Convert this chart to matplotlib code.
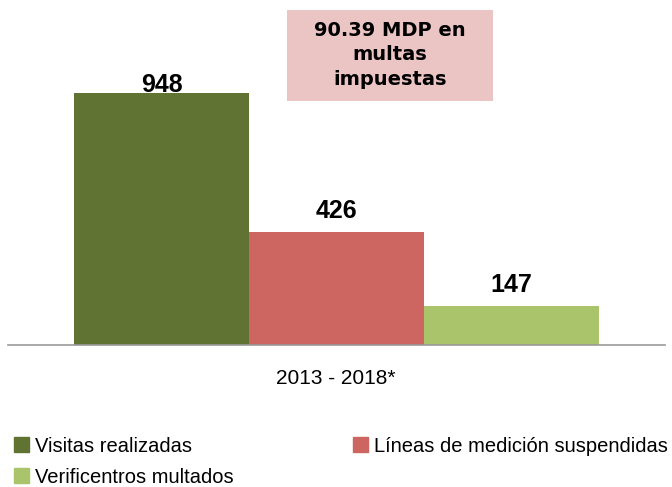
import matplotlib
matplotlib.use("Agg")
import matplotlib.pyplot as plt
from matplotlib.patches import Patch, Rectangle

# datos
CATEGORY = "2013 - 2018*"
SERIES = ["Visitas realizadas", "Líneas de medición suspendidas", "Verificentros multados"]
VALUES = [948, 426, 147]
COLORS = ["#617333", "#CD6661", "#A9C46A"]
NOTE = "90.39 MDP en\nmultas\nimpuestas"

SANS = ["Liberation Sans", "DejaVu Sans"]

fig = plt.figure(figsize=(6.72, 4.87), dpi=100)
ax = fig.add_axes([8 / 672, (487 - 345) / 487, 657 / 672, 345 / 487])

pos = [-1, 0, 1]
ax.bar(pos, VALUES, width=1.0, color=COLORS, align="center")
ax.set_xlim(-1.877, 1.877)
ax.set_ylim(0, 1298)

# etiquetas de valor (la mas alta queda pegada a la barra)
for x, v in zip(pos, VALUES):
    ax.text(x, min(v + 52, 952), str(v), ha="center", va="baseline", fontsize=18,
            fontweight="bold", family=SANS)

for s in ["top", "left", "right"]:
    ax.spines[s].set_visible(False)
ax.spines["bottom"].set_color("#999999")
ax.spines["bottom"].set_linewidth(1.2)
ax.set_xticks([])
ax.set_yticks([])

fig.text(336 / 672, 1 - 378 / 487, CATEGORY, ha="center", va="center",
         fontsize=15, family=SANS)

# recuadro de multas
fig.patches.append(Rectangle((287 / 672, 1 - 101 / 487), 206 / 672, 91 / 487,
                             transform=fig.transFigure, facecolor="#EBC4C4",
                             edgecolor="none"))
fig.text(390 / 672, 1 - 55 / 487, NOTE, ha="center", va="center",
         fontsize=14, fontweight="bold", family=["DejaVu Sans"],
         linespacing=1.38)

handles = [Patch(color=COLORS[0], label=SERIES[0]),
           Patch(color=COLORS[2], label=SERIES[2]),
           Patch(color=COLORS[1], label=SERIES[1])]
fig.legend(handles=handles, ncol=2, loc="lower left", bbox_to_anchor=(0.012, -0.012),
           frameon=False, prop={"family": SANS, "size": 14.5},
           handlelength=0.75, handleheight=0.75, handletextpad=0.3,
           columnspacing=5.9, labelspacing=0.6, borderaxespad=0.1,
           borderpad=0.2)

plt.savefig("out.png", dpi=100)
